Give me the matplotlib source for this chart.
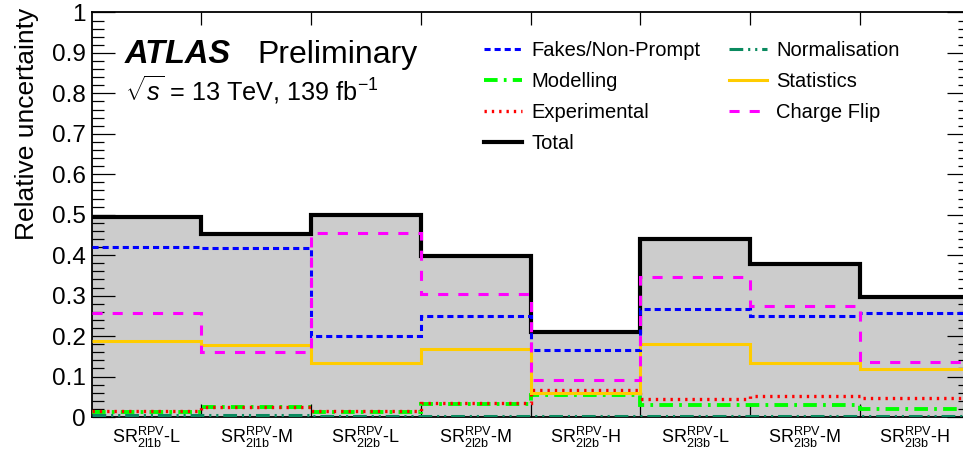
import numpy as np
import matplotlib
matplotlib.use("Agg")
import matplotlib.pyplot as plt
from matplotlib.ticker import MultipleLocator, FixedLocator, NullFormatter
from matplotlib.lines import Line2D

plt.rcParams['font.family'] = ['Liberation Sans', 'DejaVu Sans']
plt.rcParams['mathtext.fontset'] = 'custom'
plt.rcParams['mathtext.rm'] = 'Liberation Sans'
plt.rcParams['mathtext.it'] = 'Liberation Sans:italic'
plt.rcParams['mathtext.bf'] = 'Liberation Sans:bold'

# Signal regions
regions = [
    r'$\mathrm{SR}^{\mathrm{RPV}}_{\mathrm{2l1b}}$-L',
    r'$\mathrm{SR}^{\mathrm{RPV}}_{\mathrm{2l1b}}$-M',
    r'$\mathrm{SR}^{\mathrm{RPV}}_{\mathrm{2l2b}}$-L',
    r'$\mathrm{SR}^{\mathrm{RPV}}_{\mathrm{2l2b}}$-M',
    r'$\mathrm{SR}^{\mathrm{RPV}}_{\mathrm{2l2b}}$-H',
    r'$\mathrm{SR}^{\mathrm{RPV}}_{\mathrm{2l3b}}$-L',
    r'$\mathrm{SR}^{\mathrm{RPV}}_{\mathrm{2l3b}}$-M',
    r'$\mathrm{SR}^{\mathrm{RPV}}_{\mathrm{2l3b}}$-H',
]

# Relative uncertainties per region
total = [0.495, 0.452, 0.500, 0.397, 0.210, 0.441, 0.378, 0.297]
fakes = [0.420, 0.418, 0.200, 0.249, 0.165, 0.268, 0.249, 0.257]
charge_flip = [0.257, 0.160, 0.456, 0.304, 0.091, 0.346, 0.275, 0.137]
statistics = [0.189, 0.178, 0.133, 0.169, 0.059, 0.181, 0.134, 0.119]
experimental = [0.014, 0.024, 0.015, 0.035, 0.067, 0.044, 0.053, 0.048]
modelling = [0.012, 0.024, 0.013, 0.033, 0.055, 0.030, 0.029, 0.021]
normalisation = [0.004, 0.005, 0.003, 0.003, 0.003, 0.003, 0.002, 0.002]

edges = np.arange(len(regions) + 1)
centers = edges[:-1] + 0.5

W, H = 963, 458
fig = plt.figure(figsize=(W / 100, H / 100), dpi=100)
ax = fig.add_axes([91.5 / W, (H - 417) / H, (969.6 - 91.5) / W, (417 - 12.5) / H])

LW = 2.2
# Total band and outline
ax.stairs(total, edges, baseline=0, fill=True, color='#cccccc', zorder=1)
ax.stairs(total, edges, baseline=None, color='black', lw=3.0, zorder=2, label='Total')

# Individual components
ax.stairs(normalisation, edges, baseline=None, color='#0a8a5f', lw=LW,
          linestyle=(0, (4.5, 1.6, 0.7, 1.6, 0.7, 1.6)), zorder=3, label='Normalisation')
ax.stairs(modelling, edges, baseline=None, color='#00ff00', lw=2.8,
          linestyle=(0, (3.5, 1.6, 0.7, 1.6)), zorder=3, label='Modelling')
ax.stairs(experimental, edges, baseline=None, color='#ff0000', lw=2.4,
          linestyle=(0, (0.7, 1.5)), zorder=4, label='Experimental')
ax.stairs(statistics, edges, baseline=None, color='#ffcc00', lw=LW,
          zorder=4, label='Statistics')
ax.stairs(fakes, edges, baseline=None, color='#0000ff', lw=LW,
          linestyle=(0, (2.0, 1.3)), zorder=5, label='Fakes/Non-Prompt')
ax.stairs(charge_flip, edges, baseline=None, color='#ff00ff', lw=LW,
          linestyle=(0, (3.3, 3.3)), zorder=5, label='Charge Flip')

ax.set_xlim(0, len(regions))
ax.set_ylim(0, 1)

# Axis ticks
ax.yaxis.set_major_locator(MultipleLocator(0.1))
ax.yaxis.set_minor_locator(MultipleLocator(0.02))
ax.set_yticklabels([f'{v:g}' for v in ax.get_yticks()])
ax.tick_params(axis='y', which='major', direction='in', length=16.5, width=0.9,
               left=True, right=True, labelsize=17.5, pad=4)
ax.tick_params(axis='y', which='minor', direction='in', length=8.6, width=0.9,
               left=True, right=True)
ax.xaxis.set_major_locator(FixedLocator(edges[1:-1]))
ax.xaxis.set_major_formatter(NullFormatter())
ax.tick_params(axis='x', which='major', direction='in', length=9.5, width=0.9,
               top=True, bottom=True)
ax.set_xticks(centers, regions, minor=True)
ax.tick_params(axis='x', which='minor', length=0, labelsize=13, pad=6)
for s in ax.spines.values():
    s.set_linewidth(1.3)

fig.text(27 / W, (H - 8) / H, 'Relative uncertainty', fontsize=19, rotation=90,
         ha='center', va='top')

# Labels
fig.text(125 / W, (H - 63) / H, 'ATLAS', fontsize=23.5, fontweight='bold',
         fontstyle='italic', ha='left', va='baseline')
fig.text(257 / W, (H - 63) / H, 'Preliminary', fontsize=23, ha='left', va='baseline')
fig.text(125 / W, (H - 101) / H, r'$\sqrt{s}$ = 13 TeV, 139 fb$^{-1}$', fontsize=18.2,
         ha='left', va='baseline')

h, l = ax.get_legend_handles_labels()
order = ['Fakes/Non-Prompt', 'Modelling', 'Experimental', 'Total',
         'Normalisation', 'Statistics', 'Charge Flip']
hd = dict(zip(l, h))
handles = []
for name in order:
    p = hd[name]
    handles.append(Line2D([], [], color=p.get_edgecolor(), lw=p.get_linewidth(),
                          linestyle=p.get_linestyle()))
fig.legend(handles, order, loc='upper left', bbox_to_anchor=(484 / W, (H - 41) / H),
           ncol=2, frameon=False, fontsize=14.5, handlelength=1.9, handletextpad=0.45,
           columnspacing=1.4, labelspacing=0.6, borderpad=0, borderaxespad=0)

fig.savefig('out.png', dpi=100)
